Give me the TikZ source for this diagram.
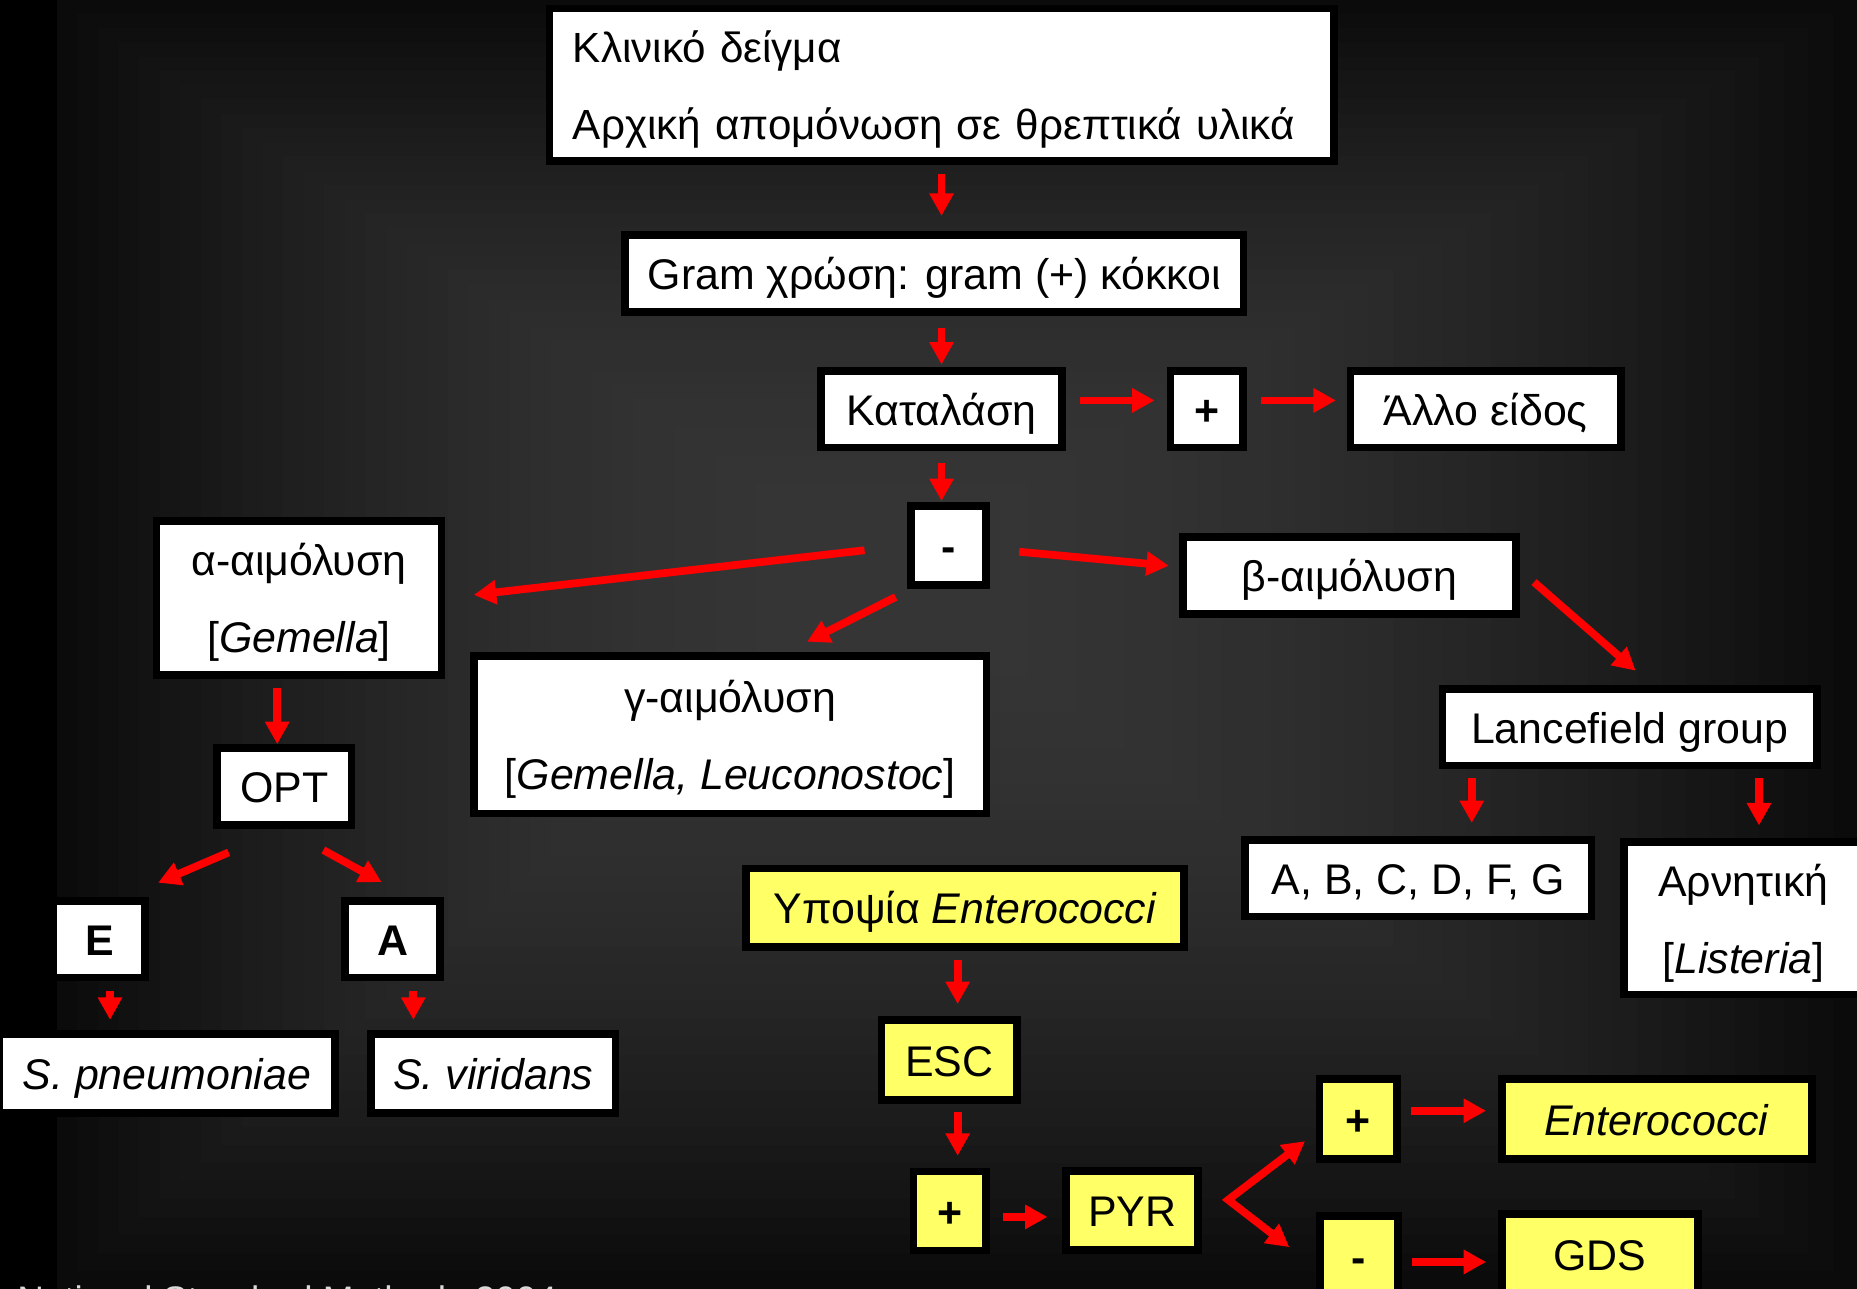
\documentclass[tikz,border=0pt]{standalone}
\usepackage{fontspec}
\setmainfont{Liberation Sans}
\usetikzlibrary{arrows.meta}

\definecolor{notepad}{HTML}{FFFF66}

\begin{document}
\begin{tikzpicture}[x=0.011843cm, y=-0.011843cm,
	box/.style={draw=black, line width=2.2pt, fill=white, inner sep=0pt, minimum height=21.8pt, text height=11.2pt, text depth=2pt, align=center, font=\fontsize{12.2}{21.9}\selectfont},
	two/.style={text height=8pt, text depth=20.4pt},
	twolines/.style={text height=32pt, text depth=0.8pt},
	ybox/.style={box, fill=notepad},
	sign/.style={font=\fontsize{12.2}{21.9}\selectfont\bfseries},
	arr/.style={red, line width=2.2pt, -{Triangle[width=6.6pt,length=6.4pt]}},
	twoarr/.style={red, line width=2.2pt, line join=miter, {Triangle[width=6.6pt,length=6.4pt]}-{Triangle[width=6.6pt,length=6.4pt]}}]

	\useasboundingbox (0,0) rectangle (1568,1088);
	\clip (0,0) rectangle (1568,1088);

	% background
	\fill [black] (0,0) rectangle (1568,1088);
	\foreach \i in {0,...,40}{
		\pgfmathsetmacro\t{1-\i/40}
		\pgfmathtruncatemacro\c{54-43*\t*\t}
		\fill [fill={rgb,255:red,\c;green,\c;blue,\c}] ({743-695*\t},{480-480*\t}) rectangle ({743+825*\t},{480+608*\t});
	}

	\node [box, two, minimum width=223.1pt, minimum height=43.3pt, text width=209.7pt, align=left, font=\fontsize{12}{21.9}\selectfont] (sample) at (795,71.5) {Κλινικό δείγμα\\Αρχική απομόνωση σε θρεπτικά υλικά};
	\node [box, minimum width=175.9pt] (gram) at (789,231) {Gram χρώση: gram (+) κόκκοι};
	\node [box, minimum width=68.6pt] (kat) at (795,345.5) {Καταλάση};
	\node [box, sign, minimum width=20.7pt] (katpos) at (1019,345.5) {+};
	\node [box, minimum width=77pt] (other) at (1254.5,345.5) {Άλλο είδος};
	\node [box, sign, minimum width=21.4pt, minimum height=22.4pt] (katneg) at (801,460.5) {-};

	\node [box, twolines, minimum width=81.1pt, minimum height=43.7pt] (alpha) at (252.5,505) {α-αιμόλυση\\{[}\textit{Gemella}{]}};
	\node [box, minimum width=94.6pt] (beta) at (1139.5,486) {β-αιμόλυση};
	\node [box, twolines, minimum width=145.8pt, minimum height=44.7pt] (gamma) at (616.5,620.5) {γ-αιμόλυση\\{[}\textit{Gemella, Leuconostoc}{]}};

	\node [box, minimum width=38.3pt] (opt) at (240,664) {OPT};
	\node [box, sign, minimum width=26.1pt] (optE) at (84,793) {E};
	\node [box, sign, minimum width=27.1pt] (optA) at (331.5,793) {A};
	\node [box, minimum width=95.6pt, minimum height=22.4pt] (pneu) at (141,906.5) {\textit{S. pneumoniae}};
	\node [box, minimum width=69.6pt, minimum height=22.4pt] (virid) at (416.5,906.5) {\textit{S. viridans}};

	\node [box, minimum width=106.4pt] (lance) at (1376,614) {Lancefield group};
	\node [box, minimum width=98.6pt] (abc) at (1197.5,741.5) {A, B, C, D, F, G};
	\node [box, twolines, minimum width=67.9pt, minimum height=43.3pt] (neg) at (1472,775.5) {Αρνητική\\{[}\textit{Listeria}{]}};

	\node [ybox, minimum width=124.6pt, minimum height=22.4pt] (suspect) at (815,766.5) {Υποψία \textit{Enterococci}};
	\node [ybox, minimum width=38.6pt, minimum height=22.8pt] (esc) at (801.5,895) {ESC};
	\node [ybox, sign, minimum width=20.7pt, minimum height=22.4pt] (escpos) at (802,1022.5) {+};
	\node [ybox, minimum width=37.6pt, minimum height=22.4pt] (pyr) at (956,1022) {PYR};
	\node [ybox, sign, minimum width=22.1pt, minimum height=22.8pt] (pyrpos) at (1147,945) {+};
	\node [ybox, minimum width=88.2pt, minimum height=22.8pt] (entero) at (1399,945) {\textit{Enterococci}};
	\node [ybox, sign, minimum width=22pt, minimum height=22.8pt] (pyrneg) at (1147.5,1060.5) {-};
	\node [ybox, minimum width=55.8pt, minimum height=22.8pt] (gds) at (1351,1059) {GDS};

	\node [anchor=base west, inner sep=0pt, text=white!85!black, font=\fontsize{10.5}{12}\selectfont] (source) at (14,1108) {National Standard Methods 2004};

	% arrows
	\draw [arr, shorten <=2.7pt, shorten >=4.4pt] (sample.south) -- (sample.south |- gram.north);
	\draw [arr, shorten <=3.4pt, shorten >=0.7pt] (kat.north |- gram.south) -- (kat.north);
	\draw [arr, shorten <=3.4pt, shorten >=0.3pt] (kat.south) -- (kat.south |- katneg.north);
	\draw [arr, shorten <=4pt, shorten >=3.4pt] ([yshift=2.5pt]kat.east) -- ([yshift=2.5pt]katpos.west);
	\draw [arr, shorten <=4pt, shorten >=3pt] ([yshift=2.5pt]katpos.east) -- ([yshift=2.5pt]other.west);
	\draw [arr, shorten <=12.2pt, shorten >=8.1pt] (katneg.west) -- (alpha.east);
	\draw [arr, shorten <=5.3pt, shorten >=6.8pt] (katneg.230.6) -- (gamma.56);
	\draw [arr, shorten <=8.3pt, shorten >=3pt] (katneg.-5) -- (beta.177);
	\draw [arr, shorten <=5.4pt, shorten >=6.2pt] (beta.2) -- (lance.62);
	\draw [arr, shorten <=2.4pt, shorten >=3.7pt] ([xshift=9.4pt]lance.south west) -- ([xshift=9.4pt]lance.south west |- abc.north);
	\draw [arr, shorten <=2.4pt, shorten >=3.7pt] ([xshift=-17.5pt]lance.south east) -- ([xshift=-17.5pt]lance.south east |- neg.north);
	\draw [arr, shorten <=2.7pt] ([xshift=-6.2pt]alpha.south) -- ([xshift=-6.2pt]alpha.south |- opt.north);
	\draw [arr, shorten <=17.2pt, shorten >=10.3pt] (opt.south) -- (optE.59);
	\draw [arr, shorten <=12.7pt, shorten >=8.8pt] (opt.south) -- (optA.69);
	\draw [arr, shorten <=2.7pt, shorten >=3pt] ([xshift=3pt]optE.south) -- ([xshift=3pt]optE.south |- pneu.north);
	\draw [arr, shorten <=2.7pt, shorten >=3pt] ([xshift=5.9pt]optA.south) -- ([xshift=5.9pt]optA.south |- virid.north);
	\draw [arr, shorten <=2.6pt, shorten >=3.4pt] ([xshift=2.4pt]esc.north |- suspect.south) -- ([xshift=2.4pt]esc.north);
	\draw [arr, shorten <=2.4pt, shorten >=3.4pt] ([xshift=2.4pt]esc.south) -- ([xshift=2.4pt]esc.south |- escpos.north);
	\draw [arr, shorten <=3.7pt, shorten >=4.2pt] ([yshift=-1.7pt]escpos.east) -- ([yshift=-1.7pt]escpos.east -| pyr.west);
	\draw [twoarr, shorten <=3.8pt, shorten >=9.8pt] (pyrpos.198) -- ([shift={(7.4pt,3pt)}]pyr.east) -- (pyrneg.196);
	\draw [arr, shorten <=2.9pt, shorten >=3.4pt] ([yshift=2.4pt]pyrpos.east) -- ([yshift=2.4pt]pyrpos.east -| entero.west);
	\draw [arr, shorten <=2.9pt, shorten >=3.4pt] ([yshift=-1.7pt]pyrneg.east) -- ([yshift=-1.7pt]pyrneg.east -| gds.west);

\end{tikzpicture}
\end{document}
